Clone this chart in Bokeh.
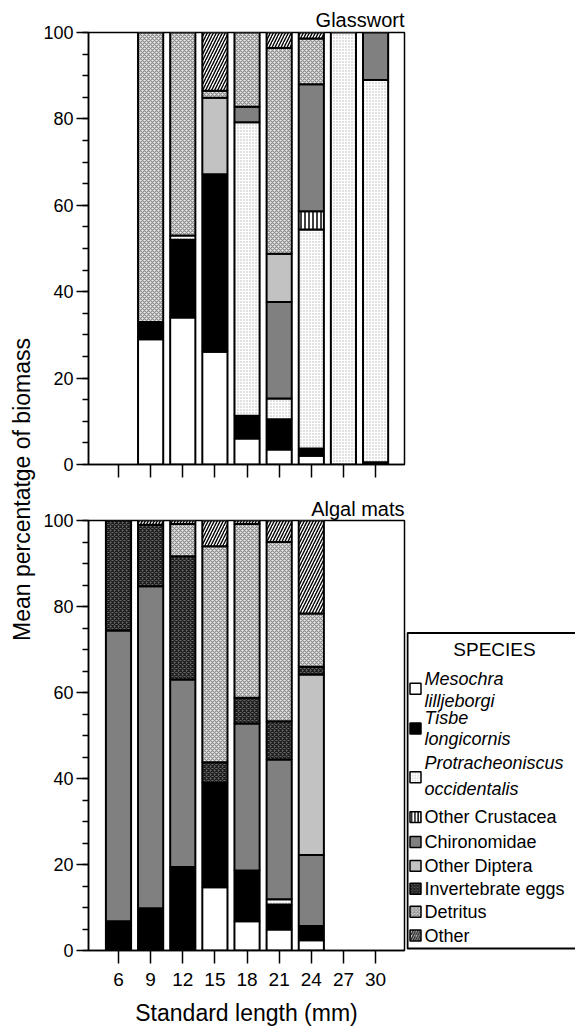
import numpy as np
from bokeh.plotting import figure
from bokeh.layouts import row, column
from bokeh.models import ColumnDataSource, FixedTicker, Range1d, Title
from bokeh.embed import file_html
from bokeh.resources import INLINE
from bokeh.core.properties import value

# ---------------- data ----------------
lengths = [6, 9, 12, 15, 18, 21, 24, 27, 30]
categories = ["Mesochra lilljeborgi", "Tisbe longicornis", "Protracheoniscus occidentalis",
              "Other Crustacea", "Chironomidae", "Other Diptera", "Invertebrate eggs",
              "Detritus", "Other"]

# Glasswort (mean % biomass), one list per category, in order of lengths
glass_mesochra = [0, 29.0, 34.0, 26.1, 6.0, 3.5, 2.0, 0, 0]
glass_tisbe = [0, 4.0, 18.0, 41.1, 5.3, 7.0, 1.7, 0, 0.5]
glass_protra = [0, 0, 1.0, 0, 67.9, 4.8, 50.7, 100.0, 88.5]
glass_crust = [0, 0, 0, 0, 0, 0, 4.2, 0, 0]
glass_chiro = [0, 0, 0, 0, 3.6, 22.3, 29.4, 0, 11.0]
glass_diptera = [0, 0, 0, 17.7, 0, 11.2, 0, 0, 0]
glass_eggs = [0, 0, 0, 0, 0, 0, 0, 0, 0]
glass_detritus = [0, 67.0, 47.0, 1.6, 17.2, 47.6, 10.6, 0, 0]
glass_other = [0, 0, 0, 13.5, 0, 3.6, 1.4, 0, 0]

# Algal mats
algal_mesochra = [0, 0, 0, 14.7, 6.8, 4.9, 2.4, 0, 0]
algal_tisbe = [6.8, 9.8, 19.4, 24.3, 11.8, 5.8, 3.3, 0, 0]
algal_protra = [0, 0, 0, 0, 0, 1.2, 0, 0, 0]
algal_crust = [0, 0, 0, 0, 0, 0, 0, 0, 0]
algal_chiro = [67.6, 74.9, 43.6, 0, 34.2, 32.5, 16.5, 0, 0]
algal_diptera = [0, 0, 0, 0, 0, 0, 42.0, 0, 0]
algal_eggs = [25.6, 14.3, 28.7, 4.8, 6.0, 8.9, 1.8, 0, 0]
algal_detritus = [0, 0, 7.5, 50.2, 40.4, 41.7, 12.4, 0, 0]
algal_other = [0, 1.0, 0.8, 6.0, 0.8, 5.0, 21.6, 0, 0]

y_ticks = [0, 20, 40, 60, 80, 100]
y_minor = list(range(0, 101, 5))

glass = [glass_mesochra, glass_tisbe, glass_protra, glass_crust, glass_chiro,
         glass_diptera, glass_eggs, glass_detritus, glass_other]
algal = [algal_mesochra, algal_tisbe, algal_protra, algal_crust, algal_chiro,
         algal_diptera, algal_eggs, algal_detritus, algal_other]

# ---------------- styles ----------------
styles = [
    dict(fill_color="white"),
    dict(fill_color="black"),
    dict(fill_color="white", hatch_pattern="dot", hatch_color="#b4b4b4", hatch_scale=3, hatch_weight=1.4),
    dict(fill_color="white", hatch_pattern="vertical_line", hatch_color="black", hatch_scale=4, hatch_weight=1.5),
    dict(fill_color="#808080"),
    dict(fill_color="#c2c2c2"),
    dict(fill_color="#6a6a6a", hatch_pattern="diagonal_cross", hatch_color="#1e1e1e", hatch_scale=4, hatch_weight=1.3),
    dict(fill_color="#e8e8e8", hatch_pattern="diagonal_cross", hatch_color="#8a8a8a", hatch_scale=4, hatch_weight=1.1),
    dict(fill_color="white", hatch_pattern="right_diagonal_line", hatch_color="black", hatch_scale=6, hatch_weight=1.4),
]

FONT = "Liberation Sans"
LABEL_W = 38
TOP_H = 484
BOT_H = 544
TOTAL_H = TOP_H + BOT_H
BAR_W = 2.35


def style_axes(p, show_x_labels):
    p.xaxis.ticker = FixedTicker(ticks=lengths)
    p.yaxis.ticker = FixedTicker(ticks=y_ticks, minor_ticks=y_minor)
    for ax in (p.xaxis[0], p.yaxis[0]):
        ax.axis_line_width = 1.5
        ax.axis_line_color = "black"
        ax.major_tick_line_width = 1.5
        ax.major_tick_line_color = "black"
        ax.major_tick_in = 0
        ax.major_label_text_font = FONT
        ax.major_label_text_color = "black"
    p.yaxis.major_tick_out = 12
    p.yaxis.minor_tick_out = 6
    p.yaxis.minor_tick_in = 0
    p.yaxis.minor_tick_line_width = 1.5
    p.yaxis.minor_tick_line_color = "black"
    p.yaxis.major_label_text_font_size = "18px"
    p.yaxis.major_label_standoff = 3
    p.xaxis.major_tick_out = 13
    p.xaxis.minor_tick_line_color = None
    if show_x_labels:
        p.xaxis.major_label_text_font_size = "19px"
        p.xaxis.major_label_standoff = 9
        p.xaxis.axis_label = "Standard length (mm)"
        p.xaxis.axis_label_text_font = FONT
        p.xaxis.axis_label_text_font_size = "23px"
        p.xaxis.axis_label_text_font_style = "normal"
        p.xaxis.axis_label_text_color = "black"
        p.xaxis.axis_label_standoff = 11
    else:
        p.xaxis.major_label_overrides = {t: "" for t in lengths}
        p.xaxis.major_label_text_font_size = "1px"
        p.xaxis.major_label_standoff = 0
    p.grid.grid_line_color = None
    p.outline_line_color = "black"
    p.outline_line_width = 1.5


def add_bars(p, panel):
    base = np.zeros(len(lengths))
    for vals, st in zip(panel, styles):
        v = np.array(vals, dtype=float)
        top = base + v
        keep = v > 0
        src = ColumnDataSource(dict(x=np.array(lengths)[keep], bottom=base[keep], top=top[keep]))
        p.vbar(x="x", bottom="bottom", top="top", width=BAR_W, source=src,
               line_color="black", line_width=2, **st)
        base = top


def panel_fig(height, width, border_top, border_bottom, border_right, title_text, standoff):
    p = figure(width=width, height=height, output_backend="svg", toolbar_location=None,
               x_range=Range1d(3.2, 32.7), y_range=Range1d(0, 100),
               min_border_left=50, min_border_right=border_right,
               min_border_top=border_top, min_border_bottom=border_bottom,
               background_fill_color="white", border_fill_color="white")
    p.title = Title(text=title_text, align="right", text_font=FONT, text_font_size="20px",
                    text_font_style="normal", text_color="black", standoff=standoff)
    return p


# top panel
top = panel_fig(TOP_H, 575 - LABEL_W, 32, 20, 575 - LABEL_W - 50 - 316, "Glasswort", 4)
add_bars(top, glass)
style_axes(top, False)

# bottom panel
bot = panel_fig(BOT_H, 406 - LABEL_W, 36, 76, 406 - LABEL_W - 50 - 316, "Algal mats", 2)
add_bars(bot, algal)
style_axes(bot, True)

# y-axis title spanning both panels
lab = figure(width=LABEL_W, height=TOTAL_H, output_backend="svg", toolbar_location=None,
             x_range=Range1d(0, LABEL_W), y_range=Range1d(0, TOTAL_H),
             min_border=0, outline_line_color=None)
lab.axis.visible = False
lab.grid.grid_line_color = None
lab.text(x=[21], y=[TOTAL_H - 489], text=["Mean percentatge of biomass"], angle=np.pi / 2,
         text_align="center", text_baseline="middle", text_font=value(FONT),
         text_font_size="23px", text_color="black")

# legend panel: its frame is aligned with the bottom panel frame (page y 520..952)
LEG_W = 575 - 406
leg = figure(width=LEG_W, height=BOT_H, output_backend="svg", toolbar_location=None,
             x_range=Range1d(0, LEG_W), y_range=Range1d(TOTAL_H - 952, TOTAL_H - 520),
             min_border_left=0, min_border_right=0, min_border_top=36, min_border_bottom=76,
             outline_line_color=None)
leg.axis.visible = False
leg.grid.grid_line_color = None


def gy(y):  # page y -> legend data y
    return TOTAL_H - y


leg.quad(left=[1], right=[LEG_W + 10], top=[gy(633)], bottom=[gy(950)],
         fill_color=None, line_color="black", line_width=2)
leg.text(x=[88], y=[gy(650)], text=["SPECIES"], text_align="center", text_baseline="middle",
         text_font=value(FONT), text_font_size="19px", text_color="black")

square_y = [689, 729, 778, 818, 843, 867, 890, 913, 937]
for st, sy in zip(styles, square_y):
    s2 = dict(st)
    if "hatch_scale" in s2:
        s2["hatch_scale"] = max(2.5, s2["hatch_scale"] * 0.8)
    leg.rect(x=[9], y=[gy(sy)], width=11, height=11, line_color="black", line_width=1.5, **s2)

italic_lines = ["Mesochra", "lilljeborgi", "Tisbe", "longicornis", "Protracheoniscus", "occidentalis"]
italic_y = [679, 701, 718, 740, 764, 790]
leg.text(x=[18] * len(italic_lines), y=[gy(v) for v in italic_y], text=italic_lines,
         text_align="left", text_baseline="middle", text_font=value(FONT),
         text_font_size="18px", text_font_style="italic", text_color="black")
normal_lines = categories[3:]
normal_y = square_y[3:]
leg.text(x=[18] * len(normal_lines), y=[gy(v) for v in normal_y], text=normal_lines,
         text_align="left", text_baseline="middle", text_font=value(FONT),
         text_font_size="18px", text_color="black")

layout = row(lab, column(top, row(bot, leg)))

open("out.html", "w").write(file_html(layout, INLINE))
